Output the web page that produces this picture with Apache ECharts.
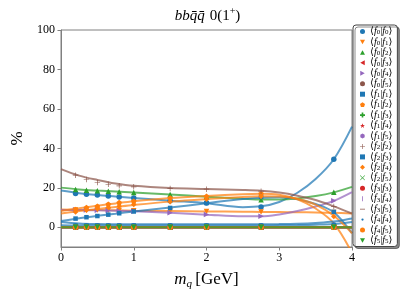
<!DOCTYPE html>
<html><head><meta charset="utf-8">
<script src="https://cdn.jsdelivr.net/npm/echarts@6/dist/echarts.min.js"></script>
<style>html,body{margin:0;padding:0;background:#fff}#c{width:415px;height:303px}</style>
</head><body><div id="c"></div>
<script>
// ---- data ----
const massPoints = [0.2, 0.35, 0.5, 0.65, 0.8, 1.0, 1.5, 2.0, 2.75, 3.75];
const fitGrid = [0, 0.25, 0.5, 0.75, 1, 1.5, 2, 2.5, 2.75, 3, 3.25, 3.5, 3.75, 4];
const yTicks = [0, 20, 40, 60, 80, 100];
const xTicks = [0, 1, 2, 3, 4];

const p_f0f0 = [17.1, 16.7, 16.3, 15.8, 15.3, 14.8, 13.5, 12.3, 10.3, 34.5];
const c_f0f0 = [18.6, 17.3, 16.3, 15.6, 14.9, 13.5, 12.2, 10.2, 10.6, 12.8, 17.5, 24.5, 34.5, 51];
const p_f0f1 = [8.8, 8.8, 8.7, 8.6, 8.5, 8.4, 8.2, 8.0, 7.8, 7.5];
const c_f0f1 = [9.0, 8.8, 8.7, 8.6, 8.4, 8.2, 8.0, 7.9, 7.8, 7.7, 7.6, 7.5, 7.3, 7.0];
const p_f0f2 = [19.1, 18.8, 18.5, 18.3, 18.0, 17.6, 16.6, 15.5, 14.0, 17.8];
const c_f0f2 = [20.1, 19.2, 18.6, 18.1, 17.6, 16.6, 15.5, 14.5, 14.1, 14.1, 14.6, 15.8, 17.7, 20.5];
const p_f0f4 = [8.7, 8.7, 8.6, 8.5, 8.3, 8.1, 7.3, 6.5, 5.6, 13.4];
const c_f0f4 = [8.8, 8.7, 8.6, 8.4, 8.1, 7.3, 6.4, 5.6, 5.6, 6.5, 8.2, 10.5, 13.4, 17.8];
const p_f1f1 = [4.4, 5.1, 5.7, 6.4, 7.1, 8.0, 9.8, 12.3, 15.4, 7.8];
const c_f1f1 = [3.2, 4.6, 5.8, 6.9, 8.0, 10.0, 12.2, 14.3, 15.0, 15.2, 14.2, 11.8, 7.6, -3.0];
const p_f1f2 = [9.0, 10.0, 10.7, 11.7, 12.5, 13.2, 14.9, 15.7, 17.0, 1.0];
const c_f1f2 = [8.3, 9.6, 10.9, 12.1, 13.2, 14.8, 15.9, 16.8, 17.0, 16.5, 14.2, 9.5, 2.0, -13.0];
const p_f2f2 = [26.4, 24.2, 22.7, 21.8, 21.0, 20.5, 19.6, 19.3, 18.3, 10.5];
const c_f2f2 = [29.5, 26.2, 24.0, 22.2, 21.0, 19.9, 19.4, 18.9, 18.5, 17.6, 16.0, 13.8, 10.6, 7.0];
const p_f2f3 = [0.9, 0.9, 0.9, 0.9, 0.9, 0.9, 0.9, 0.9, 0.9, 1.2];
const c_f2f3 = [1.0, 0.9, 0.9, 0.9, 0.9, 0.9, 0.9, 0.9, 0.9, 1.0, 1.1, 1.3, 1.7, 2.7];
const p_f2f4 = [7.8, 8.6, 9.3, 10.0, 10.7, 11.5, 13.0, 14.2, 15.6, 5.5];
const c_f2f4 = [7.0, 8.2, 9.3, 10.3, 11.3, 13.0, 14.3, 15.4, 15.7, 15.6, 14.5, 11.5, 5.8, -3.0];
const p_f4f4 = [1.5, 1.5, 1.5, 1.5, 1.5, 1.5, 1.5, 1.5, 1.5, 2.0];
const c_f4f4 = [2.7, 1.9, 1.6, 1.5, 1.5, 1.5, 1.5, 1.5, 1.5, 1.6, 1.8, 2.2, 2.9, 4.5];
const p_zero = [0, 0, 0, 0, 0, 0, 0, 0, 0, 0];
const c_zero = [0, 0, 0, 0, 0, 0, 0, 0, 0, 0, 0, 0, 0, 0];

const names = ['⟨f0|f0⟩','⟨f0|f1⟩','⟨f0|f2⟩','⟨f0|f3⟩','⟨f0|f4⟩','⟨f0|f5⟩',
  '⟨f1|f1⟩','⟨f1|f2⟩','⟨f1|f3⟩','⟨f1|f4⟩','⟨f1|f5⟩',
  '⟨f2|f2⟩','⟨f2|f3⟩','⟨f2|f4⟩','⟨f2|f5⟩',
  '⟨f3|f3⟩','⟨f3|f4⟩','⟨f3|f5⟩','⟨f4|f4⟩','⟨f4|f5⟩','⟨f5|f5⟩'];
const pointSets = [p_f0f0, p_f0f1, p_f0f2, p_zero, p_f0f4, p_zero,
  p_f1f1, p_f1f2, p_zero, p_zero, p_zero,
  p_f2f2, p_f2f3, p_f2f4, p_zero,
  p_zero, p_zero, p_zero, p_f4f4, p_zero, p_zero];
const curveSets = [c_f0f0, c_f0f1, c_f0f2, c_zero, c_f0f4, c_zero,
  c_f1f1, c_f1f2, c_zero, c_zero, c_zero,
  c_f2f2, c_f2f3, c_f2f4, c_zero,
  c_zero, c_zero, c_zero, c_f4f4, c_zero, c_zero];

// ---- styles ----
const palette = ['#1f77b4', '#ff7f0e', '#2ca02c', '#d62728', '#9467bd', '#8c564b'];
const SYM = {
  o: 'circle',
  v: 'path://M0,0L2,0L1,1.8Z',
  '^': 'path://M1,0L2,1.8L0,1.8Z',
  '<': 'path://M0,1L1.8,0L1.8,2Z',
  '>': 'path://M0,0L1.8,1L0,2Z',
  s: 'rect',
  p: 'path://M0,-1L0.951,-0.309L0.588,0.809L-0.588,0.809L-0.951,-0.309Z',
  P: 'path://M-0.33,-1H0.33V-0.33H1V0.33H0.33V1H-0.33V0.33H-1V-0.33H-0.33Z',
  star: 'path://M0,-1L0.223,-0.307L0.951,-0.309L0.361,0.117L0.588,0.809L0,0.38L-0.588,0.809L-0.361,0.117L-0.951,-0.309L-0.223,-0.307Z',
  h: 'path://M0,-1L0.866,-0.5L0.866,0.5L0,1L-0.866,0.5L-0.866,-0.5Z',
  plus: 'path://M-0.12,-1H0.12V-0.12H1V0.12H0.12V1H-0.12V0.12H-1V-0.12H-0.12Z',
  x: 'path://M-1,-0.83L-0.83,-1L0,-0.17L0.83,-1L1,-0.83L0.17,0L1,0.83L0.83,1L0,0.17L-0.83,1L-1,0.83L-0.17,0Z',
  vline: 'path://M-1,-1M1,1M-0.15,-1H0.15V1H-0.15Z',
  hline: 'path://M-1,-1M1,1M-1,-0.15H1V0.15H-1Z',
  dot: 'path://M-1,-1M1,1M-0.45,0A0.45,0.45,0,1,1,0.45,0A0.45,0.45,0,1,1,-0.45,0Z'
};
const markers = ['o','v','^','<','>','o','s','p','P','star','h','plus','s','D','x','o','vline','hline','dot','o','v'];
function symOf(m) { return m === 'D' ? 'diamond' : SYM[m]; }
function sizeOf(m) { return m === 's' ? 4.5 : (m === 'dot' ? 5 : 5.5); }

const series = [];
names.forEach((n, i) => {
  const col = palette[i % 6];
  series.push({
    name: n + ' fit', type: 'line', smooth: 0.35, showSymbol: false, silent: true,
    data: fitGrid.map((x, k) => [x, curveSets[i][k]]),
    lineStyle: { color: col, width: 2, opacity: 0.72 }, itemStyle: { color: col },
    clip: true, z: 2
  });
  series.push({
    name: n, type: 'scatter', silent: true,
    data: massPoints.map((x, k) => [x, pointSets[i][k]]),
    symbol: symOf(markers[i]), symbolSize: sizeOf(markers[i]),
    itemStyle: { color: col, opacity: 1 }, clip: true, z: 3
  });
});

const serif = 'Liberation Serif, DejaVu Serif, serif';
const chart = echarts.init(document.getElementById('c'), null, { renderer: 'canvas' });
chart.setOption({
  animation: false,
  backgroundColor: '#fff',
  title: {
    text: '{i|bbq̄q̄} {n|0(1}{sup|+}{n|)}',
    left: 'center', top: 1,
    textStyle: {
      fontWeight: 'normal',
      rich: {
        i: { fontFamily: serif, fontStyle: 'italic', fontWeight: 'normal', fontSize: 15, lineHeight: 20, color: '#000' },
        n: { fontFamily: serif, fontWeight: 'normal', fontSize: 15, lineHeight: 20, color: '#000' },
        sup: { fontFamily: serif, fontWeight: 'normal', fontSize: 10, lineHeight: 12, verticalAlign: 'top', color: '#000' }
      }
    }
  },
  grid: { left: 61, right: 63, top: 30, bottom: 56, show: true, borderColor: '#808080', borderWidth: 1, backgroundColor: 'transparent' },
  xAxis: {
    type: 'value', min: 0, max: 4, interval: 1,
    name: '{i|m}{s|q} {n|[GeV]}', nameLocation: 'middle', nameGap: 23,
    nameTextStyle: {
      rich: {
        i: { fontFamily: serif, fontStyle: 'italic', fontSize: 17, lineHeight: 20, color: '#000' },
        s: { fontFamily: serif, fontStyle: 'italic', fontSize: 11, lineHeight: 14, verticalAlign: 'bottom', color: '#000' },
        n: { fontFamily: serif, fontSize: 17, lineHeight: 20, color: '#000' }
      }
    },
    axisLine: { show: true, onZero: false, lineStyle: { color: '#808080', width: 1 } },
    axisTick: { show: true, length: 3.5, lineStyle: { color: '#808080' } },
    axisLabel: { fontFamily: serif, fontSize: 12, color: '#000', margin: 5 },
    splitLine: { show: false }
  },
  yAxis: {
    type: 'value', min: -10, max: 100,
    name: '%', nameLocation: 'middle', nameGap: 25, nameRotate: 90,
    nameTextStyle: { fontFamily: serif, fontSize: 17, color: '#000' },
    axisLine: { show: true, onZero: false, lineStyle: { color: '#808080', width: 1 } },
    axisTick: { show: true, length: 3.5, customValues: yTicks, lineStyle: { color: '#808080' } },
    axisLabel: { fontFamily: serif, fontSize: 12, color: '#000', margin: 6, customValues: yTicks },
    splitLine: { show: false }
  },
  legend: {
    orient: 'vertical', left: 353, top: 25,
    padding: [1.5, 5, 1, 7],
    itemWidth: 5, itemHeight: 5, itemGap: 0.45, itemTextGap: 8,
    backgroundColor: '#fff', borderColor: '#444', borderWidth: 1, borderRadius: 3,
    shadowColor: 'rgba(0,0,0,0.45)', shadowOffsetX: 2, shadowOffsetY: 2, shadowBlur: 0,
    data: names.map((n, i) => ({ name: n, icon: symOf(markers[i]) })),
    formatter: function (name) {
      return '{t|⟨}{i|f}{s|' + name[2] + '}{t||}{i|f}{s|' + name[5] + '}{t|⟩}';
    },
    textStyle: {
      lineHeight: 9,
      rich: {
        t: { fontFamily: serif, fontSize: 10, lineHeight: 9, color: '#000' },
        i: { fontFamily: serif, fontStyle: 'italic', fontSize: 10, lineHeight: 9, color: '#000' },
        s: { fontFamily: serif, fontSize: 7, lineHeight: 6, verticalAlign: 'bottom', color: '#000' }
      }
    }
  },
  series: series
});
</script>
</body></html>
